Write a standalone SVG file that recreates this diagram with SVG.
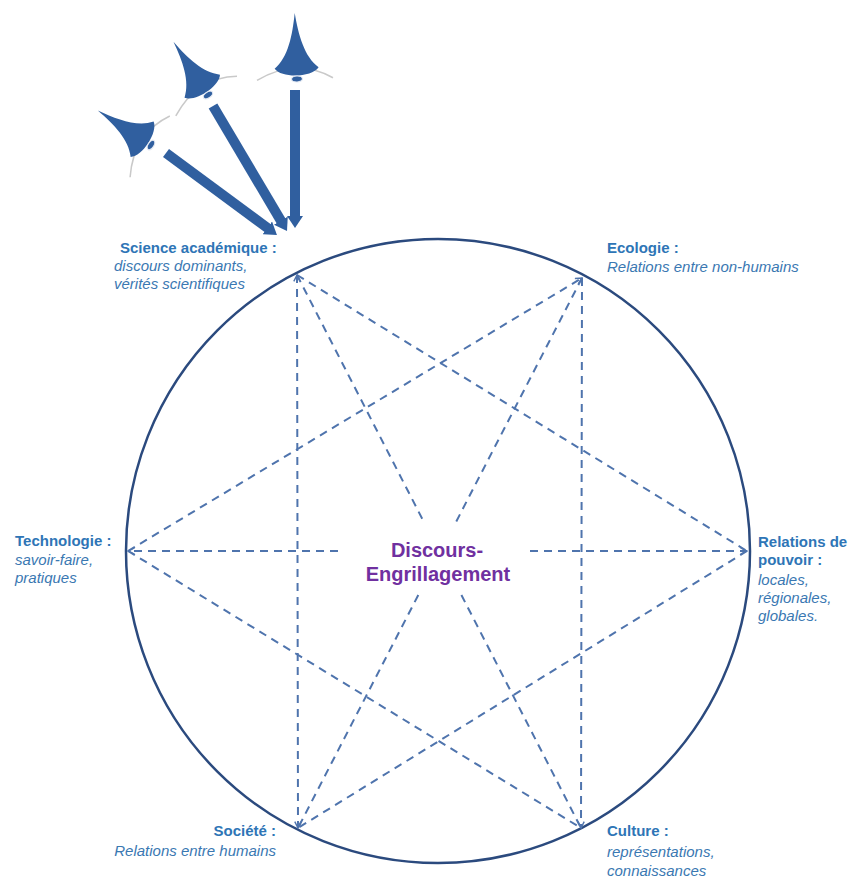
<svg xmlns="http://www.w3.org/2000/svg" width="862" height="881" viewBox="0 0 862 881">
<style>
.ttl{font-family:"Liberation Sans",Arial,sans-serif;font-weight:bold;font-size:15px;fill:#2E75B6}
.sub{font-family:"Liberation Sans",Arial,sans-serif;font-style:italic;font-size:15px;fill:#3A78B2}
.ctr{font-family:"Liberation Sans",Arial,sans-serif;font-weight:bold;font-size:20px;fill:#7030A0}
.dash{stroke:#4F74AD;stroke-width:2;stroke-dasharray:8 6;fill:none}
.bar{stroke:#305F9F;stroke-width:10;fill:none}
</style>
<defs>
<marker id="chev" viewBox="0 0 10 10" refX="9" refY="5" markerWidth="8" markerHeight="8" markerUnits="userSpaceOnUse" orient="auto-start-reverse">
<path d="M1,1 L9,5 L1,9" fill="none" stroke="#4F74AD" stroke-width="1.8"/>
</marker>
<marker id="head" viewBox="0 0 12 16" refX="2" refY="8" markerWidth="12" markerHeight="16" markerUnits="userSpaceOnUse" orient="auto">
<path d="M0,0 L12,8 L0,16 z" fill="#305F9F"/>
</marker>
<g id="eyeShape">
<path d="M-40,0 Q0,-22 36,0" fill="none" stroke="#C9C9C9" stroke-width="1.6"/>
<path d="M0,-66 C3,-44 8,-22 22,-11 C15,-1 -15,-1 -22,-11 C-8,-22 -3,-44 0,-66 z" fill="#305F9F"/>
<ellipse cx="0" cy="0" rx="5.5" ry="3" fill="#305F9F" stroke="#E2E8F2" stroke-width="1.2"/>
</g>
</defs>
<rect width="862" height="881" fill="#FFFFFF"/>

<g id="observers">
<use href="#eyeShape" transform="translate(297,79) rotate(-2)"/>
<use href="#eyeShape" transform="translate(208,95) rotate(-33) scale(0.96)"/>
<use href="#eyeShape" transform="translate(151,145) rotate(-57) scale(0.96)"/>
<line class="bar" x1="295" y1="90" x2="295" y2="218" marker-end="url(#head)"/>
<line class="bar" x1="213" y1="106" x2="281.9" y2="222.4" marker-end="url(#head)"/>
<line class="bar" x1="166" y1="153" x2="268.9" y2="229.1" marker-end="url(#head)"/>
</g>

<g id="circle">
<circle cx="438" cy="551" r="312" fill="none" stroke="#2B4A7E" stroke-width="2.5"/>
</g>

<g id="connectors">
<line class="dash" x1="297" y1="275" x2="298" y2="828" marker-start="url(#chev)" marker-end="url(#chev)"/>
<line class="dash" x1="582" y1="278" x2="581" y2="828" marker-end="url(#chev)"/>
<line class="dash" x1="128" y1="551" x2="582" y2="278" marker-end="url(#chev)"/>
<line class="dash" x1="338" y1="551" x2="128" y2="551" marker-end="url(#chev)"/>
<line class="dash" x1="530" y1="551" x2="747" y2="551" marker-end="url(#chev)"/>
<line class="dash" x1="297" y1="275" x2="747" y2="551"/>
<line class="dash" x1="128" y1="551" x2="581" y2="828"/>
<line class="dash" x1="747" y1="551" x2="298" y2="828"/>
<line class="dash" x1="297" y1="275" x2="424.4" y2="523"/>
<line class="dash" x1="461.4" y1="595" x2="581" y2="828"/>
<line class="dash" x1="582" y1="278" x2="455.5" y2="523"/>
<line class="dash" x1="418.3" y1="595" x2="298" y2="828"/>
</g>

<g id="center">
<text class="ctr" x="437" y="557" text-anchor="middle">Discours-</text>
<text class="ctr" x="438" y="581" text-anchor="middle">Engrillagement</text>
</g>

<g id="science">
<text class="ttl" x="120" y="253">Science académique :</text>
<text class="sub" x="114" y="271">discours dominants,</text>
<text class="sub" x="114" y="289">vérités scientifiques</text>
</g>

<g id="ecologie">
<text class="ttl" x="607" y="253">Ecologie :</text>
<text class="sub" x="607" y="272">Relations entre non-humains</text>
</g>

<g id="technologie">
<text class="ttl" x="15" y="546">Technologie :</text>
<text class="sub" x="15" y="565">savoir-faire,</text>
<text class="sub" x="15" y="583">pratiques</text>
</g>

<g id="pouvoir">
<text class="ttl" x="758" y="547">Relations de</text>
<text class="ttl" x="758" y="565">pouvoir :</text>
<text class="sub" x="758" y="585">locales,</text>
<text class="sub" x="758" y="603">régionales,</text>
<text class="sub" x="758" y="621">globales.</text>
</g>

<g id="societe">
<text class="ttl" x="276" y="836" text-anchor="end">Société :</text>
<text class="sub" x="276" y="856" text-anchor="end">Relations entre humains</text>
</g>

<g id="culture">
<text class="ttl" x="607" y="836">Culture :</text>
<text class="sub" x="607" y="857">représentations,</text>
<text class="sub" x="607" y="876">connaissances</text>
</g>
</svg>
